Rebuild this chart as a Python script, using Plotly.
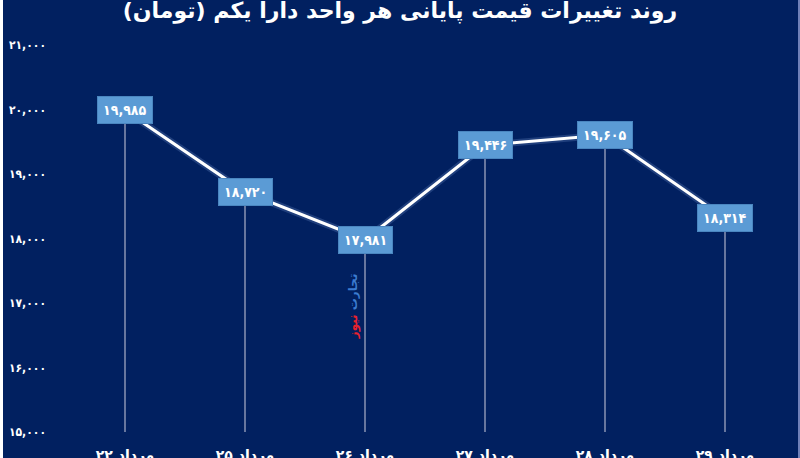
import plotly.graph_objects as go

categories = ["۲۲ مرداد", "۲۵ مرداد", "۲۶ مرداد", "۲۷ مرداد", "۲۸ مرداد", "۲۹ مرداد"]
values = [19985, 18720, 17981, 19446, 19605, 18314]
y_ticks = [15000, 16000, 17000, 18000, 19000, 20000, 21000]
title_text = "روند تغییرات قیمت پایانی هر واحد دارا یکم (تومان)"

FA = str.maketrans("0123456789", "۰۱۲۳۴۵۶۷۸۹")
def fa(n):
    return f"{n:,}".translate(FA)

W, H = 800, 458
ML, MR, MT, MB = 65, 15, 45, 26
Y0, Y1 = 15000, 21000
BG = "#012060"
FONT = "DejaVu Sans"
CFONT = "DejaVu Sans Condensed, DejaVu Sans"

xs = list(range(len(categories)))

fig = go.Figure()
# drop lines from each point to the baseline
fig.add_trace(go.Scatter(
    x=xs, y=values, mode="markers",
    marker=dict(size=1, color="rgba(0,0,0,0)"),
    error_y=dict(type="data", symmetric=False,
                 array=[0] * len(values),
                 arrayminus=[v - Y0 for v in values],
                 width=0, thickness=1.5, color="#8a93b3"),
    hoverinfo="skip", showlegend=False))
# glow
fig.add_trace(go.Scatter(x=xs, y=values, mode="lines",
                         line=dict(color="rgba(170,200,255,0.18)", width=7),
                         hoverinfo="skip", showlegend=False))
fig.add_trace(go.Scatter(x=xs, y=values, mode="lines",
                         line=dict(color="white", width=3),
                         showlegend=False))

for x, v in zip(xs, values):
    fig.add_annotation(x=x, y=v, xref="x", yref="y", text=fa(v), showarrow=False,
                       font=dict(family=CFONT, size=14, color="white", weight="bold"),
                       bgcolor="#5b9bd5", bordercolor="#4a86c0", borderwidth=1,
                       borderpad=5)

# watermark
fig.add_annotation(x=1.9, y=16950, xref="x", yref="y",
                   text="تجارت <span style='color:#e8222e'>نیوز</span>",
                   textangle=-90, showarrow=False,
                   font=dict(family=FONT, size=12, color="#3b7bd0", weight="bold"))

pw = W - ML - MR
ph = H - MT - MB
fig.add_shape(type="rect", xref="paper", yref="paper",
              x0=-ML / pw, x1=-(ML - 3) / pw, y0=-MB / ph, y1=1 + MT / ph,
              fillcolor="white", line=dict(width=0), layer="above")
fig.add_shape(type="rect", xref="paper", yref="paper",
              x0=1 + (MR - 2) / pw, x1=1 + MR / pw, y0=-MB / ph, y1=1 + MT / ph,
              fillcolor="#6f80b8", line=dict(width=0), layer="above")

fig.update_layout(
    width=W, height=H,
    margin=dict(l=ML, r=MR, t=MT, b=MB, autoexpand=False),
    paper_bgcolor=BG, plot_bgcolor=BG,
    title=dict(text=title_text, x=0.5, xanchor="center", xref="container",
               y=1 - 10 / H, yref="container", yanchor="middle",
               font=dict(family=FONT, size=22, color="white", weight="bold")),
    xaxis=dict(range=[-0.5, len(categories) - 0.5], tickvals=xs, ticktext=categories,
               showgrid=False, zeroline=False, showline=False, ticks="",
               ticklabelstandoff=13, automargin=False,
               tickfont=dict(family=FONT, size=14, color="white", weight="bold")),
    yaxis=dict(range=[Y0, Y1], tickvals=y_ticks, ticktext=[fa(t) for t in y_ticks],
               showgrid=False, zeroline=False, showline=False, ticks="",
               ticklabelstandoff=18, automargin=False,
               tickfont=dict(family=CFONT, size=12, color="white", weight="bold")),
)

fig.write_html("out.html", config={"displayModeBar": False},
               post_script="document.body.style.margin='0';document.body.style.overflow='hidden';")
